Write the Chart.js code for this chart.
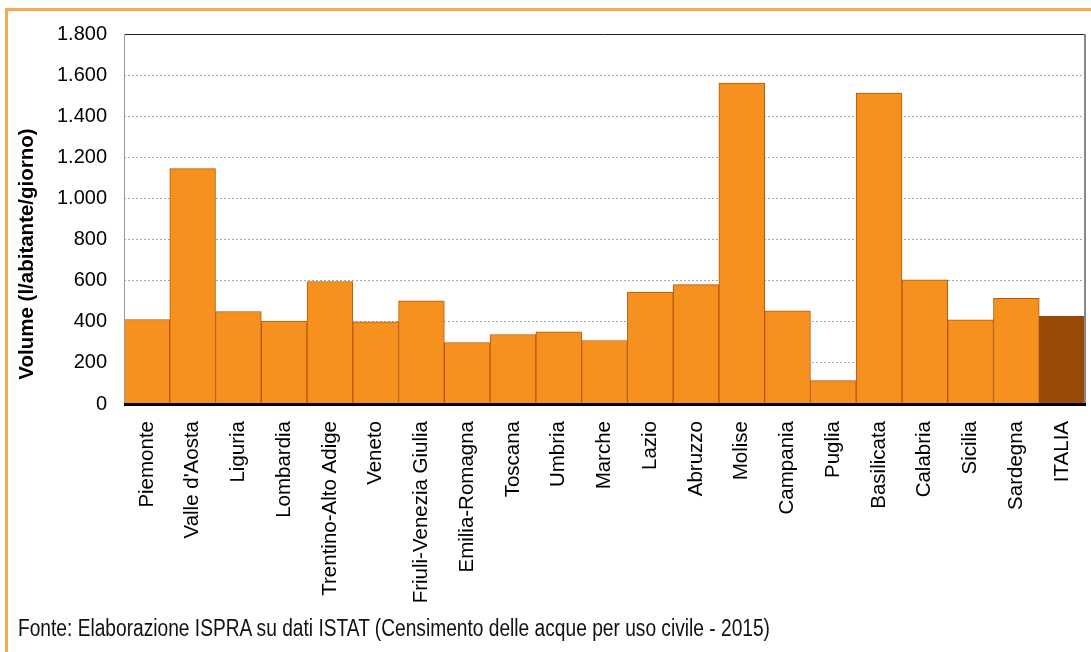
<!DOCTYPE html>
<html>
<head>
<meta charset="utf-8">
<script src="https://cdn.jsdelivr.net/npm/chart.js@4.4.1/dist/chart.umd.min.js"></script>
<style>
  html, body { margin: 0; padding: 0; background: #fff; }
  #wrap { position: relative; width: 1091px; height: 652px; overflow: hidden; }
  #frame { position: absolute; left: 5px; top: 8px; width: 1100px; height: 700px;
           border-top: 3px solid #F8A852; border-left: 3px solid #F8A852; box-sizing: border-box; }
  #c { position: absolute; left: 0; top: 0; }
  #foot { position: absolute; left: 18px; top: 615px; font-family: "Liberation Sans", Arial, sans-serif;
          font-size: 23.5px; color: #111; white-space: nowrap; transform-origin: 0 0; }
</style>
</head>
<body>
<div id="wrap">
  <div id="frame"></div>
  <canvas id="c" width="1091" height="652"></canvas>
  <div id="foot">Fonte: Elaborazione ISPRA su dati ISTAT (Censimento delle acque per uso civile - 2015)</div>
</div>
<script>
const regions = ["Piemonte", "Valle d'Aosta", "Liguria", "Lombardia", "Trentino-Alto Adige", "Veneto",
  "Friuli-Venezia Giulia", "Emilia-Romagna", "Toscana", "Umbria", "Marche", "Lazio", "Abruzzo",
  "Molise", "Campania", "Puglia", "Basilicata", "Calabria", "Sicilia", "Sardegna", "ITALIA"];
const volumes = [411, 1145, 450, 404, 596, 400, 502, 299, 338, 351, 309, 545, 581, 1561, 453, 114,
  1513, 604, 409, 514, 427];
const yTicks = [0, 200, 400, 600, 800, 1000, 1200, 1400, 1600, 1800];
const yTitle = "Volume (l/abitante/giorno)";

const fmt = v => String(v).replace(/\B(?=(\d{3})+(?!\d))/g, ".");

// fit footer width
const foot = document.getElementById('foot');
const fw = foot.getBoundingClientRect().width;
foot.style.transform = 'scaleX(' + (752 / fw) + ')';

const framePlugin = {
  id: 'frameLines',
  afterDatasetsDraw(chart) {
    const {ctx, chartArea: a} = chart;
    ctx.save();
    ctx.lineWidth = 1;
    ctx.strokeStyle = '#222';
    ctx.beginPath(); ctx.moveTo(a.left, a.top + 0.5); ctx.lineTo(a.right, a.top + 0.5); ctx.stroke();
    ctx.strokeStyle = '#888';
    ctx.lineWidth = 2;
    ctx.beginPath(); ctx.moveTo(a.right, a.top); ctx.lineTo(a.right, a.bottom); ctx.stroke();
    ctx.lineWidth = 1;
    ctx.strokeStyle = '#999';
    ctx.beginPath(); ctx.moveTo(a.left + 0.5, a.top); ctx.lineTo(a.left + 0.5, a.bottom); ctx.stroke();
    ctx.strokeStyle = '#000';
    ctx.lineWidth = 3;
    ctx.beginPath(); ctx.moveTo(a.left, a.bottom + 0.5); ctx.lineTo(a.right + 1, a.bottom + 0.5); ctx.stroke();
    // y title
    ctx.fillStyle = '#000';
    ctx.font = 'bold 20.5px "Liberation Sans", Arial, sans-serif';
    ctx.textAlign = 'center';
    ctx.textBaseline = 'middle';
    ctx.translate(27, 254);
    ctx.rotate(-Math.PI / 2);
    ctx.fillText(yTitle, 0, 0);
    ctx.restore();
  }
};

new Chart(document.getElementById('c'), {
  type: 'bar',
  data: {
    labels: regions,
    datasets: [{
      data: volumes,
      backgroundColor: regions.map((r, i) => i === regions.length - 1 ? '#9A4A08' : '#F6911F'),
      borderColor: regions.map((r, i) => i === regions.length - 1 ? '#9A4A08' : '#B45A0E'),
      borderWidth: 1,
      barPercentage: 1,
      categoryPercentage: 1
    }]
  },
  options: {
    responsive: false,
    animation: false,
    devicePixelRatio: 1,
    layout: { padding: { top: 34, right: 6, left: 0, bottom: 0 } },
    plugins: { legend: { display: false }, tooltip: { enabled: false } },
    scales: {
      x: {
        grid: { display: false, drawTicks: false },
        border: { display: false },
        ticks: {
          maxRotation: 90, minRotation: 90, autoSkip: false, padding: 17,
          color: '#000', font: { family: '"Liberation Sans", Arial, sans-serif', size: 20.5 }
        },
        afterFit(scale) { scale.height = 248; scale.paddingLeft = 0; scale.paddingRight = 0; }
      },
      y: {
        min: 0, max: 1800,
        afterBuildTicks(scale) { scale.ticks = yTicks.map(v => ({ value: v })); },
        grid: {
          drawTicks: false,
          color: ctx => (ctx.tick && (ctx.tick.value === 0 || ctx.tick.value === 1800)) ? 'rgba(0,0,0,0)' : '#a6a6a6',
          lineWidth: 1
        },
        border: { display: false, dash: [2, 2] },
        ticks: {
          padding: 17, color: '#000',
          font: { family: '"Liberation Sans", Arial, sans-serif', size: 20 },
          callback: v => fmt(v)
        },
        afterFit(scale) { scale.width = 124; scale.paddingTop = 0; scale.paddingBottom = 0; }
      }
    }
  },
  plugins: [framePlugin]
});
</script>
</body>
</html>
